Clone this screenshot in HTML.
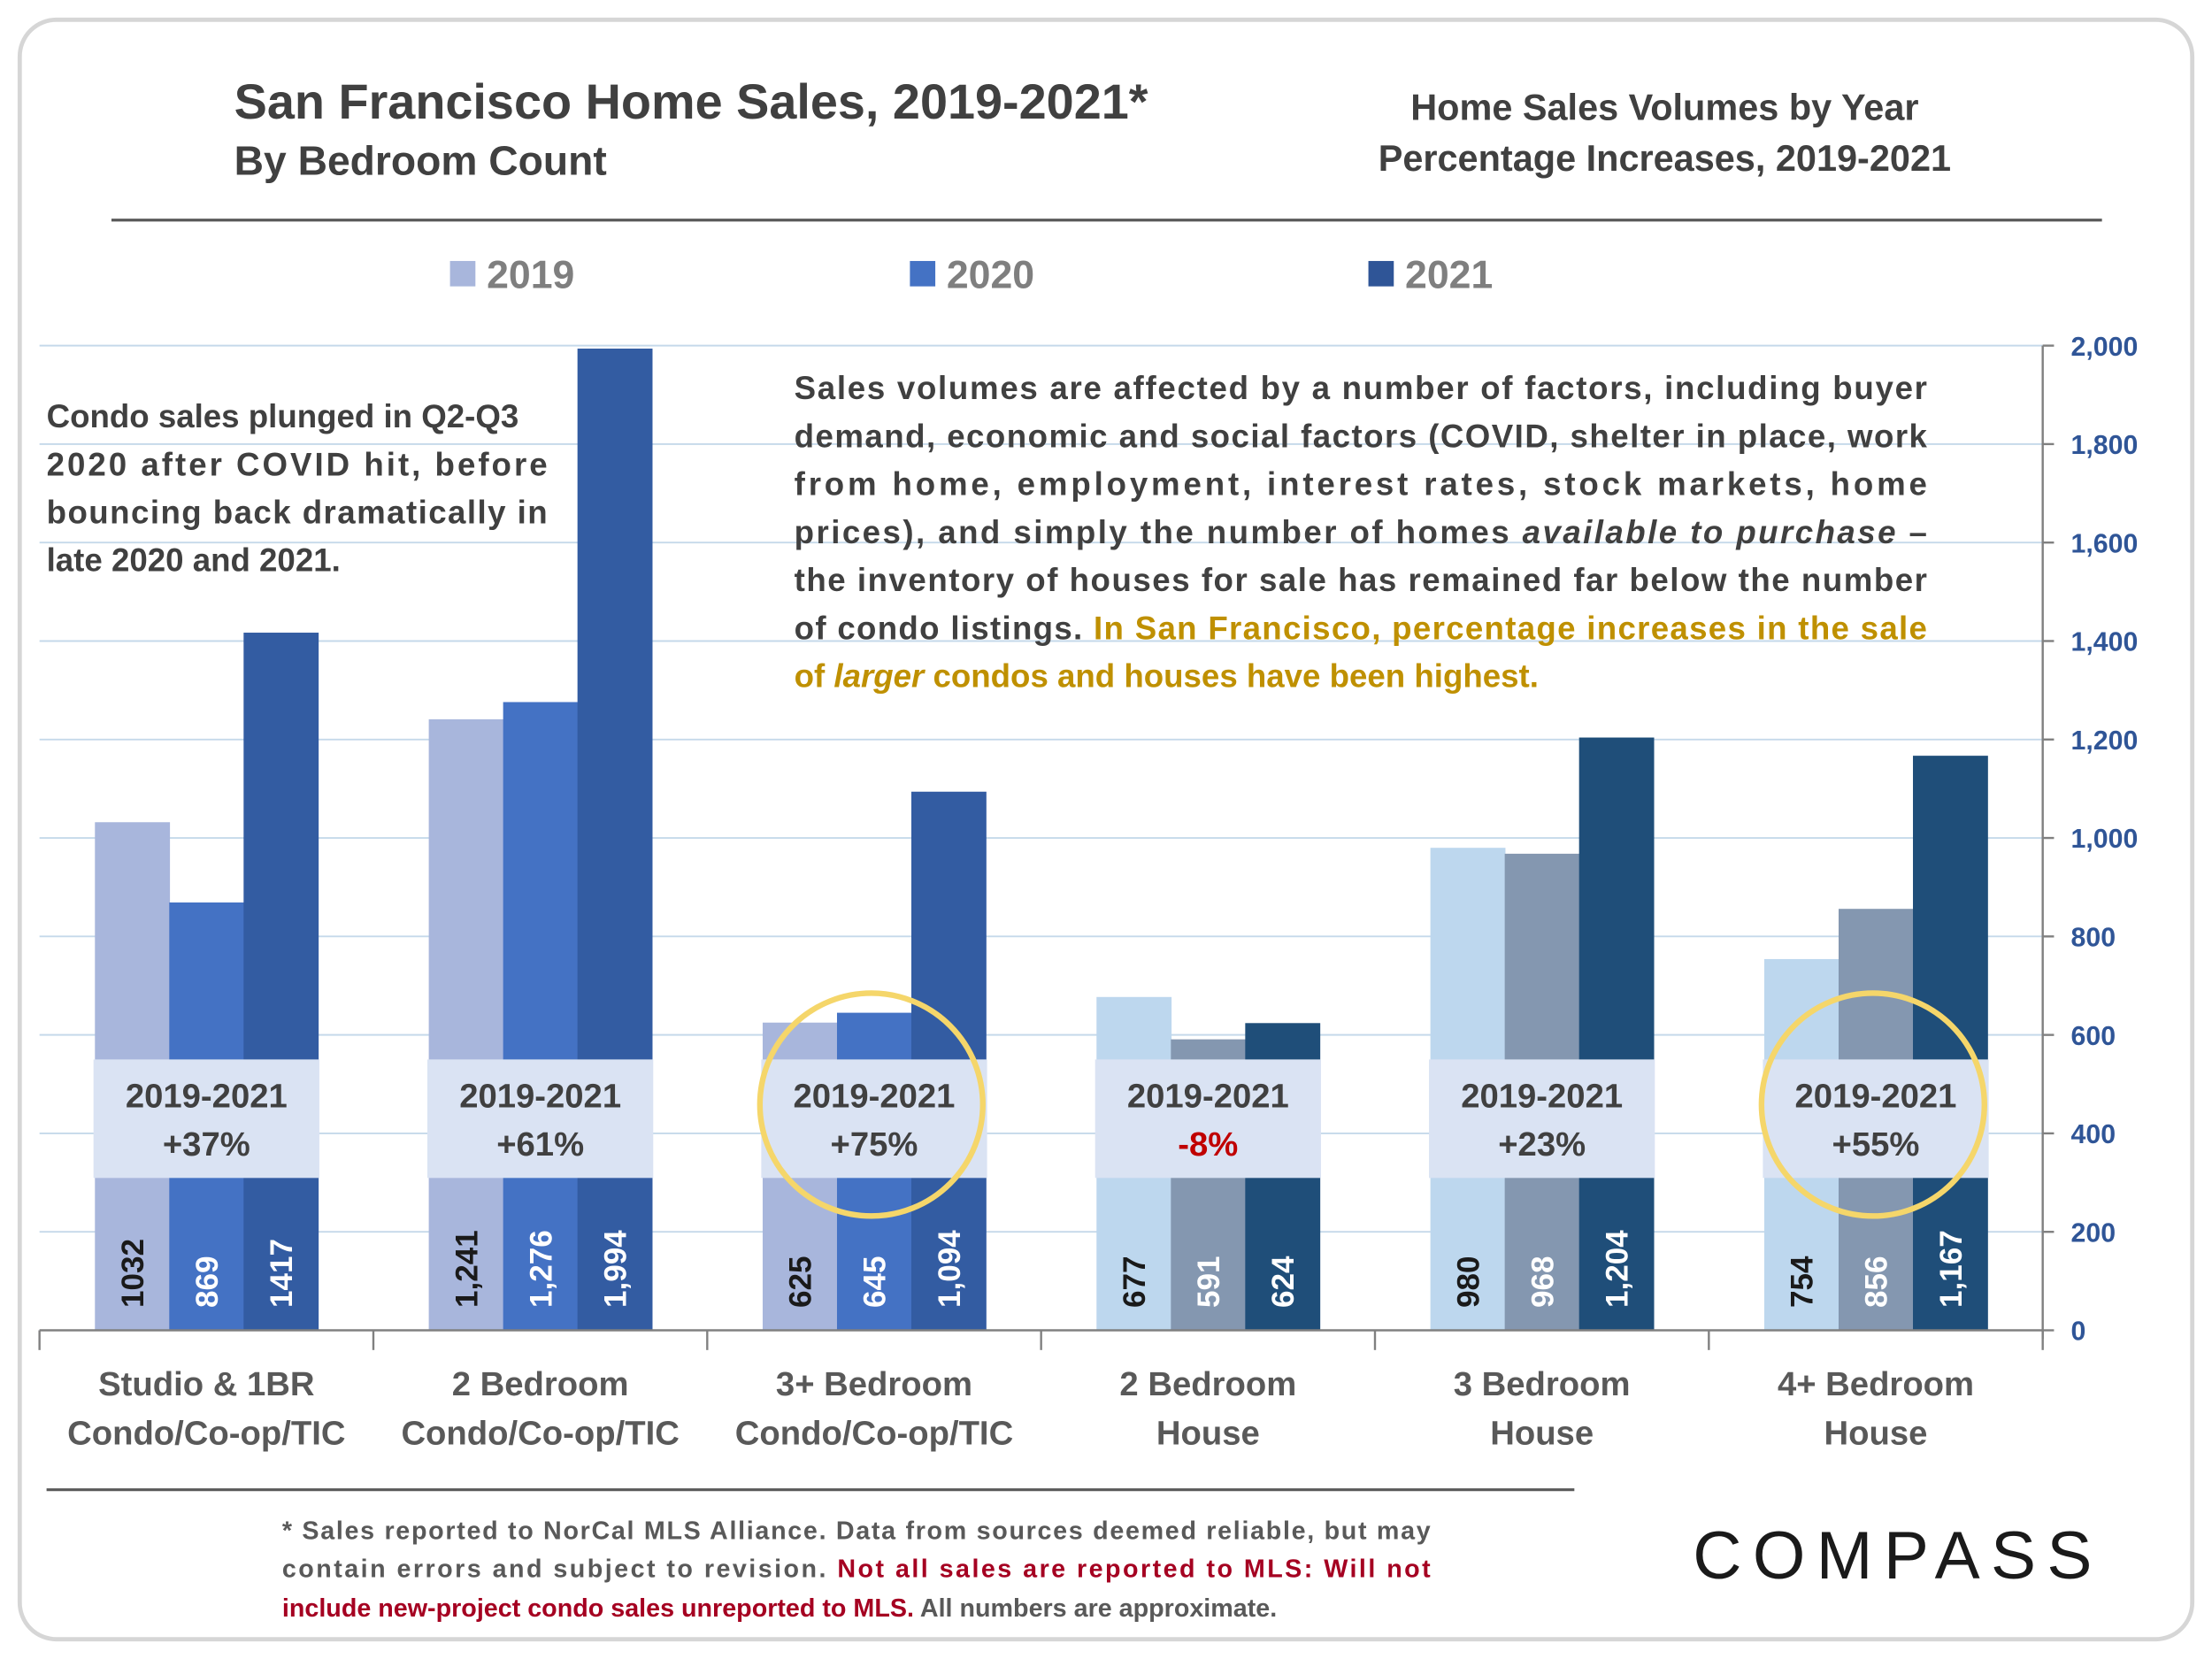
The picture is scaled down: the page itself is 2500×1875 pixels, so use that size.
<!DOCTYPE html>
<html><head><meta charset="utf-8"><style>
html,body{margin:0;padding:0;background:#fff}
svg{display:block}
text{font-family:"Liberation Sans",sans-serif}
</style></head><body>
<svg id="chart" width="2500" height="1875" viewBox="0 0 1568 1176" xmlns="http://www.w3.org/2000/svg">
<rect x="14" y="14" width="1540" height="1148" rx="26" fill="#fff" stroke="#d6d6d6" stroke-width="3"/>
<text x="166" y="84" font-size="35" font-weight="bold" fill="#404040">San Francisco Home Sales, 2019-2021*</text>
<text x="166" y="124" font-size="29" font-weight="bold" fill="#404040">By Bedroom Count</text>
<text x="1180" y="85" font-size="26" font-weight="bold" fill="#404040" text-anchor="middle">Home Sales Volumes by Year</text>
<text x="1180" y="121" font-size="26" font-weight="bold" fill="#404040" text-anchor="middle">Percentage Increases, 2019-2021</text>
<line x1="79" y1="156" x2="1490" y2="156" stroke="#595959" stroke-width="2"/>
<g>
<rect x="319" y="185" width="18" height="18" fill="#a8b6dc"/>
<text x="345" y="204" font-size="28" font-weight="bold" fill="#7f7f7f">2019</text>
<rect x="645" y="185" width="18" height="18" fill="#4472c4"/>
<text x="671" y="204" font-size="28" font-weight="bold" fill="#7f7f7f">2020</text>
<rect x="970" y="185" width="18" height="18" fill="#2f5597"/>
<text x="996" y="204" font-size="28" font-weight="bold" fill="#7f7f7f">2021</text>
</g>
<g id="plot"></g>
<g font-size="23" font-weight="bold" fill="#404040">
<text x="33" y="303">Condo sales plunged in Q2-Q3</text>
<text x="33" y="337" textLength="355">2020 after COVID hit, before</text>
<text x="33" y="371" textLength="355">bouncing back dramatically in</text>
<text x="33" y="405">late 2020 and 2021.</text>
</g>
<g font-size="23" font-weight="bold" fill="#404040">
<text x="563" y="283" textLength="803">Sales volumes are affected by a number of factors, including  buyer</text>
<text x="563" y="317" textLength="803">demand, economic and social factors (COVID, shelter in place, work</text>
<text x="563" y="351" textLength="803">from  home,  employment,  interest  rates,  stock  markets,  home</text>
<text x="563" y="385" textLength="803">prices), and simply the number of homes <tspan font-style="italic">available to purchase</tspan> –</text>
<text x="563" y="419" textLength="803">the inventory of houses for sale has remained far below the number</text>
<text x="563" y="453" textLength="803">of condo listings. <tspan fill="#bf9000">In San Francisco, percentage increases in the sale</tspan></text>
<text x="563" y="487" fill="#bf9000">of <tspan font-style="italic">larger</tspan> condos and houses have been highest.</text>
</g>
<line x1="33" y1="1056" x2="1116" y2="1056" stroke="#595959" stroke-width="2"/>
<g font-size="18" font-weight="bold" fill="#595959">
<text x="200" y="1091" textLength="814">* Sales reported to NorCal MLS Alliance. Data from sources deemed reliable, but may</text>
<text x="200" y="1118" textLength="814">contain errors and subject to revision.  <tspan fill="#a50021">Not all sales are reported to MLS: Will not</tspan></text>
<text x="200" y="1146"><tspan fill="#a50021">include new-project condo sales unreported to MLS.</tspan> All numbers are approximate.</text>
</g>
<text x="1200" y="1119" font-size="48" fill="#1a1a1a" textLength="283">COMPASS</text>
</svg>
<script>
const categories = [["Studio & 1BR","Condo/Co-op/TIC"],["2 Bedroom","Condo/Co-op/TIC"],["3+ Bedroom","Condo/Co-op/TIC"],["2 Bedroom","House"],["3 Bedroom","House"],["4+ Bedroom","House"]];
const values2019 = [1032,1241,625,677,980,754];
const values2020 = [869,1276,645,591,968,856];
const values2021 = [1417,1994,1094,624,1204,1167];
const valueLabels2019 = ["1032","1,241","625","677","980","754"];
const valueLabels2020 = ["869","1,276","645","591","968","856"];
const valueLabels2021 = ["1417","1,994","1,094","624","1,204","1,167"];
const pctLabels = ["+37%","+61%","+75%","-8%","+23%","+55%"];
const highlighted = [false,false,true,false,false,true];
const yTicks = [0,200,400,600,800,1000,1200,1400,1600,1800,2000];
const yTickLabels = ["0","200","400","600","800","1,000","1,200","1,400","1,600","1,800","2,000"];

const NS="http://www.w3.org/2000/svg";
const plot=document.getElementById('plot');
const X0=28, X1=1448, Y0=943, Y1=245, YMAX=2000;
const bandW=(X1-X0)/categories.length;
const y=v=>Y0-(v/YMAX)*(Y0-Y1);
const xc=i=>X0+bandW*(i+0.5);
function mk(tag,attrs,parent){const e=document.createElementNS(NS,tag);for(const k in attrs)e.setAttribute(k,attrs[k]);(parent||plot).appendChild(e);return e;}
yTicks.forEach((t,i)=>{
  const g=mk('line',{x1:X0,x2:X1,y1:y(t),y2:y(t),stroke:'#c5d9ea','stroke-width':1.2});
  
  
  const tk=mk('line',{x1:X1,x2:X1+8,y1:y(t),y2:y(t),stroke:'#808080','stroke-width':1.5});
  
  
  const l=mk('text',{x:X1+20,y:y(t)+7,'font-size':19,'font-weight':'bold',fill:'#2f5597','font-family':'DejaVu Sans, sans-serif'});
  l.textContent=yTickLabels[i];
  
  
});
const condoCols=['#a8b6dc','#4472c4','#335ca2'];
const houseCols=['#bdd7ee','#8497b0','#1f4e79'];
const series=[values2019,values2020,values2021];
const labs=[valueLabels2019,valueLabels2020,valueLabels2021];
const BW=52.7;
categories.forEach((c,i)=>{
  const cols=i<3?condoCols:houseCols;
  const left=xc(i)-BW*1.5;
  series.forEach((s,j)=>{
    const bx=left+j*BW;
    const r=mk('rect',{x:bx,y:y(s[i]),width:BW+0.5,height:Y0-y(s[i]),fill:cols[j]});
    
    
  });
  const box=mk('rect',{x:left-1,y:751,width:BW*3+2,height:84,fill:'#dae3f3'});
  
  
  const t1=mk('text',{x:xc(i),y:785,'font-size':24,'font-weight':'bold',fill:'#404040','text-anchor':'middle'});
  t1.textContent='2019-2021';
  
  
  const t2=mk('text',{x:xc(i),y:819,'font-size':24,'font-weight':'bold',fill:pctLabels[i].startsWith('-')?'#c00000':'#404040','text-anchor':'middle'});
  t2.textContent=pctLabels[i];
  
  
  series.forEach((s,j)=>{
    const cx=left+j*BW+BW/2+8, cy=927;
    const t=mk('text',{x:cx,y:cy,'font-size':22,'font-weight':'bold','font-family':'DejaVu Sans, sans-serif',fill:j===0?'#1a1a1a':'#fff',transform:`rotate(-90 ${cx} ${cy})`});
    t.textContent=labs[j][i];
    
    
  });
  if(highlighted[i]){
    const ci=mk('circle',{cx:xc(i)-2,cy:783,r:79,fill:'none',stroke:'#f5d66a','stroke-width':4});
    
    
  }
  c.forEach((ln,k)=>{
    const t=mk('text',{x:xc(i),y:989+k*35,'font-size':24,'font-weight':'bold',fill:'#595959','text-anchor':'middle'});
    t.textContent=ln;
    
    
  });
});
const ax=mk('line',{x1:X0,x2:X1,y1:Y0,y2:Y0,stroke:'#808080','stroke-width':1.5});


for(let i=0;i<=categories.length;i++){
  const t=mk('line',{x1:X0+i*bandW,x2:X0+i*bandW,y1:Y0,y2:Y0+14,stroke:'#808080','stroke-width':1.5});
  
  
}
const yax=mk('line',{x1:X1,x2:X1,y1:Y1,y2:Y0+6,stroke:'#808080','stroke-width':1.5});


</script>
</body></html>
